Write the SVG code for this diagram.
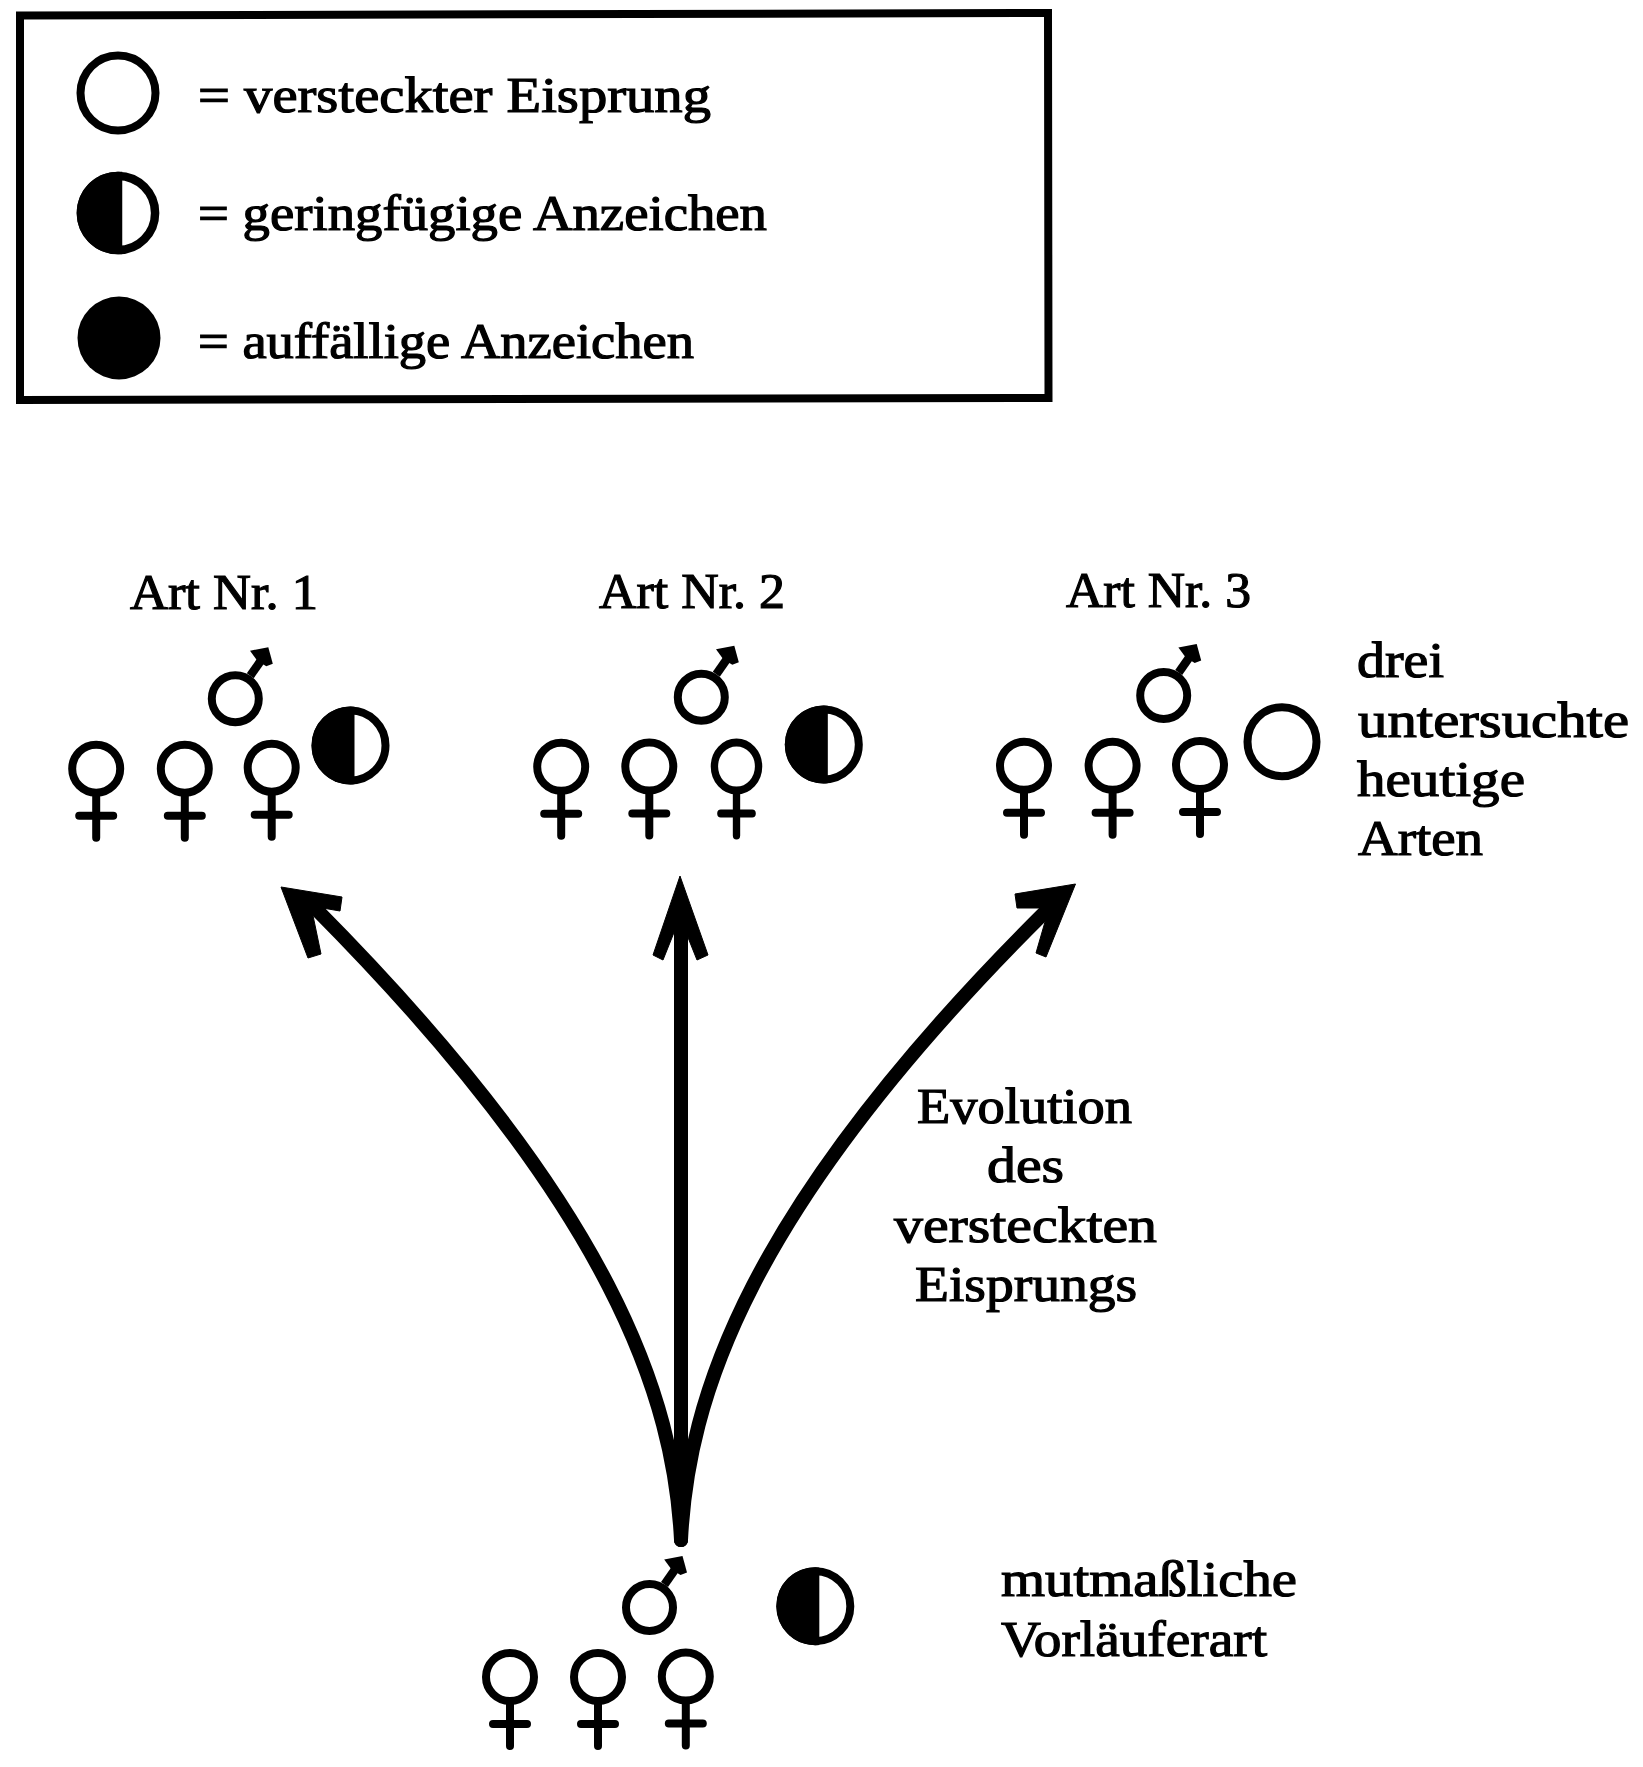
<svg xmlns="http://www.w3.org/2000/svg" xmlns:xlink="http://www.w3.org/1999/xlink" width="1643" height="1767" viewBox="0 0 1643 1767">
  <style>
    text { font-family: "Liberation Serif", "Times New Roman", serif; font-size: 50px; fill: #000; stroke: #000; stroke-width: 1.2px; }
    .ring { fill: none; stroke: #000; stroke-width: 8; }
    .bar { fill: none; stroke: #000; stroke-width: 8; stroke-linecap: round; }
    .curve { fill: none; stroke: #000; stroke-width: 14; stroke-linecap: round; }
    .head { fill: #000; stroke: #000; stroke-width: 1; stroke-linejoin: round; }
    .solid { fill: #000; }
    .open { fill: #fff; stroke: #000; stroke-width: 8; }
  </style>
  <defs>
    <!-- female sign: ring centred on the origin -->
    <g id="female">
      <circle class="ring" r="24"/>
      <path class="bar" d="M0,26V69M-17,47H17"/>
    </g>
    <!-- male sign: ring centred on the origin -->
    <g id="male">
      <circle class="ring" r="23.500"/>
      <path d="M15,-23L29,-43" fill="none" stroke="#000" stroke-width="8.500"/>
      <polygon class="solid" points="14.700,-48 33,-51.500 37.500,-35 31,-32.500 22,-38"/>
    </g>
    <!-- half-filled signal disc: centred on the origin -->
    <g id="half">
      <circle class="open" r="35"/>
      <path class="solid" d="M4,-38.800A39,39 0 1 0 4,38.800Z"/>
    </g>
  </defs>

  <rect width="1643" height="1767" fill="#fff"/>

  <g id="legend">
    <path d="M20,15.500L1048,13L1048.500,398L20,400Z" fill="none" stroke="#000" stroke-width="8"/>
    <g id="legend-hidden">
      <circle class="open" cx="118" cy="93" r="37.500"/>
      <text x="198" y="112" textLength="513" lengthAdjust="spacingAndGlyphs">= versteckter Eisprung</text>
    </g>
    <g id="legend-slight">
      <use href="#half" transform="translate(118,213) scale(1.060)"/>
      <text x="198" y="230" textLength="569" lengthAdjust="spacingAndGlyphs">= geringfügige Anzeichen</text>
    </g>
    <g id="legend-marked">
      <circle class="solid" cx="119" cy="338" r="41.500"/>
      <text x="198" y="358" textLength="496" lengthAdjust="spacingAndGlyphs">= auffällige Anzeichen</text>
    </g>
  </g>

  <g id="connectors">
    <path class="curve" d="M681,1540C674,1400 615,1210 315,908"/>
    <path class="curve" d="M681,1540V920"/>
    <path class="curve" d="M681,1540C688,1400 745,1210 1045,912"/>
    <polygon class="head" points="281,887 342,897 340,911 311,906 321,954 308,958"/>
    <polygon class="head" points="680,876 708,955 697,960 685,930 675,930 663,960 653,955"/>
    <polygon class="head" points="1075.500,884 1046,957 1036,953 1049,908 1017,908 1015,894"/>
  </g>

  <g id="species-1">
    <text x="130" y="609" textLength="188" lengthAdjust="spacingAndGlyphs">Art Nr. 1</text>
    <use href="#male" x="235.300" y="698.700"/>
    <use href="#female" x="96.200" y="768.700"/>
    <use href="#female" x="184.800" y="768.700"/>
    <use href="#female" x="271.700" y="767.700"/>
    <use href="#half" x="350.500" y="745.500"/>
  </g>

  <g id="species-2">
    <text x="599" y="608" textLength="186" lengthAdjust="spacingAndGlyphs">Art Nr. 2</text>
    <use href="#male" x="701.300" y="697.200"/>
    <use href="#female" x="561.200" y="766.800"/>
    <use href="#female" x="649.300" y="766.500"/>
    <use href="#female" transform="translate(736.500,766.500) scale(0.92,1)"/>
    <use href="#half" x="823.800" y="744.500"/>
  </g>

  <g id="species-3">
    <text x="1066" y="607" textLength="185" lengthAdjust="spacingAndGlyphs">Art Nr. 3</text>
    <use href="#male" x="1163.700" y="695.500"/>
    <use href="#female" x="1024" y="765.800"/>
    <use href="#female" x="1112.600" y="765.800"/>
    <use href="#female" x="1200" y="765"/>
    <circle class="open" cx="1282" cy="741.700" r="34.500"/>
  </g>

  <g id="label-species">
    <text x="1357" y="677" textLength="87" lengthAdjust="spacingAndGlyphs">drei</text>
    <text x="1358" y="737" textLength="271" lengthAdjust="spacingAndGlyphs">untersuchte</text>
    <text x="1357" y="796" textLength="168" lengthAdjust="spacingAndGlyphs">heutige</text>
    <text x="1358" y="855" textLength="125" lengthAdjust="spacingAndGlyphs">Arten</text>
  </g>

  <g id="label-evolution">
    <text x="917" y="1123" textLength="215" lengthAdjust="spacingAndGlyphs">Evolution</text>
    <text x="987" y="1182" textLength="77" lengthAdjust="spacingAndGlyphs">des</text>
    <text x="894" y="1242" textLength="263" lengthAdjust="spacingAndGlyphs">versteckten</text>
    <text x="915" y="1301" textLength="222" lengthAdjust="spacingAndGlyphs">Eisprungs</text>
  </g>

  <g id="ancestor">
    <use href="#male" x="649.500" y="1607.500"/>
    <use href="#female" x="510" y="1677"/>
    <use href="#female" x="598" y="1677"/>
    <use href="#female" x="685.800" y="1676.500"/>
    <use href="#half" x="815.300" y="1606.200"/>
    <text x="1001" y="1596" textLength="296" lengthAdjust="spacingAndGlyphs">mutmaßliche</text>
    <text x="1001" y="1656" textLength="266" lengthAdjust="spacingAndGlyphs">Vorläuferart</text>
  </g>
</svg>
